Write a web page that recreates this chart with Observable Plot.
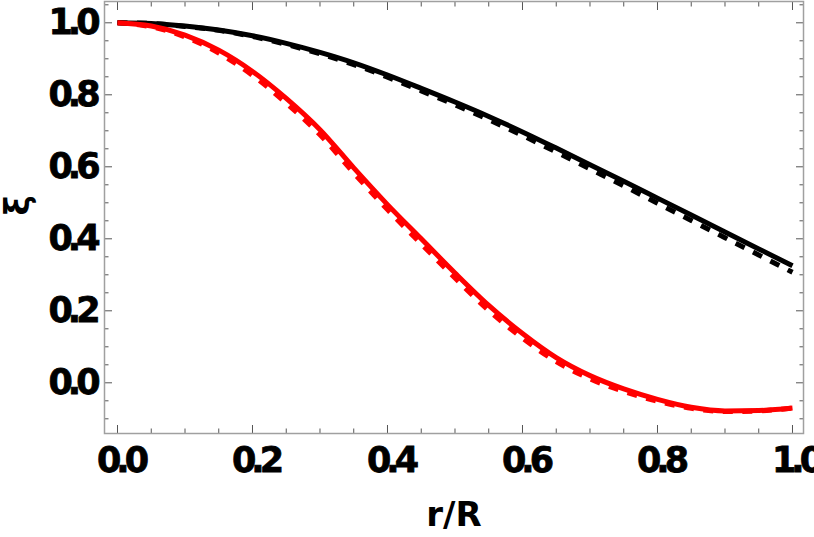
<!DOCTYPE html>
<html><head><meta charset="utf-8">
<script src="https://cdn.jsdelivr.net/npm/d3@7"></script>
<script src="https://cdn.jsdelivr.net/npm/@observablehq/plot@0.6"></script>
<style>
html,body{margin:0;padding:0;background:#fff;}
</style>
</head><body>
<div id="chart"></div>
<script>
// ---- data ----
const r = [0,0.05,0.10,0.15,0.20,0.25,0.30,0.35,0.40,0.45,0.50,0.55,0.60,0.65,0.70,0.75,0.80,0.85,0.90,0.95,1.00];
const blackSolid  = [1.000,0.998,0.991,0.980,0.964,0.943,0.918,0.889,0.855,0.818,0.780,0.740,0.697,0.652,0.606,0.560,0.513,0.466,0.419,0.372,0.325];
const blackDashed = [1.000,0.998,0.990,0.979,0.962,0.940,0.914,0.884,0.849,0.811,0.772,0.731,0.687,0.641,0.594,0.547,0.499,0.451,0.403,0.355,0.307];
const redSolid    = [1.000,0.991,0.966,0.924,0.865,0.790,0.703,0.597,0.495,0.400,0.305,0.215,0.137,0.070,0.020,-0.017,-0.046,-0.068,-0.078,-0.077,-0.070];
const redDashed   = [1.000,0.989,0.961,0.916,0.854,0.777,0.689,0.583,0.481,0.386,0.291,0.201,0.124,0.059,0.011,-0.024,-0.051,-0.071,-0.080,-0.078,-0.070];

const xMajor = [0,0.2,0.4,0.6,0.8,1.0];
const xMinor = [0.05,0.1,0.15,0.25,0.3,0.35,0.45,0.5,0.55,0.65,0.7,0.75,0.85,0.9,0.95];
const yMajor = [0,0.2,0.4,0.6,0.8,1.0];
const yMinor = [-0.1,-0.05,0.05,0.1,0.15,0.25,0.3,0.35,0.45,0.5,0.55,0.65,0.7,0.75,0.85,0.9,0.95,1.05];
const xTitle = "r/R";
const yTitle = "ξ";

const series = (ys) => r.map((x, i) => ({r: x, v: ys[i]}));

const tickColor = "#555";
const fmt = d3.format(".1f");
const labelFont = {fontSize: 35, fontWeight: "bold"};

const plot = Plot.plot({
  width: 814,
  height: 537,
  marginLeft: 104,
  marginRight: 11,
  marginTop: 1,
  marginBottom: 104,
  style: {fontFamily: "DejaVu Sans", background: "#fff", color: "#000"},
  x: {domain: [-0.01926, 1.0163], label: null},
  y: {domain: [-0.1408, 1.0592], label: null},
  marks: [
    // ticks (inward, all four sides)
    Plot.axisX(xMajor, {anchor: "bottom", tickSize: 8, dy: -8, tickFormat: () => "", stroke: tickColor, label: null}),
    Plot.axisX(xMinor, {anchor: "bottom", tickSize: 4.5, dy: -4.5, tickFormat: () => "", stroke: tickColor, label: null}),
    Plot.axisX(xMajor, {anchor: "top", tickSize: 8, dy: 8, tickFormat: () => "", stroke: tickColor, label: null}),
    Plot.axisX(xMinor, {anchor: "top", tickSize: 4.5, dy: 4.5, tickFormat: () => "", stroke: tickColor, label: null}),
    Plot.axisY(yMajor, {anchor: "left", tickSize: 8, dx: 8, tickFormat: () => "", stroke: tickColor, label: null}),
    Plot.axisY(yMinor, {anchor: "left", tickSize: 4.5, dx: 4.5, tickFormat: () => "", stroke: tickColor, label: null}),
    Plot.axisY(yMajor, {anchor: "right", tickSize: 8, dx: -8, tickFormat: () => "", stroke: tickColor, label: null}),
    Plot.axisY(yMinor, {anchor: "right", tickSize: 4.5, dx: -4.5, tickFormat: () => "", stroke: tickColor, label: null}),
    // tick labels
    Plot.axisX(xMajor, {anchor: "bottom", tickSize: 0, tickPadding: 14, dx: 3, tickFormat: fmt, label: null, ...labelFont}),
    Plot.axisY(yMajor, {anchor: "left", tickSize: 0, tickPadding: 9, tickFormat: fmt, label: null, ...labelFont}),
    // curves
    Plot.line(series(blackDashed), {x: "r", y: "v", stroke: "#000", strokeWidth: 5, strokeDasharray: "10,9.5", strokeLinecap: "butt", curve: "monotone-x"}),
    Plot.line(series(redDashed), {x: "r", y: "v", stroke: "#ff0000", strokeWidth: 5, strokeDasharray: "10,9.5", strokeLinecap: "butt", curve: "monotone-x"}),
    Plot.line(series(blackSolid), {x: "r", y: "v", stroke: "#000", strokeWidth: 5, strokeLinecap: "butt", curve: "monotone-x"}),
    Plot.line(series(redSolid), {x: "r", y: "v", stroke: "#ff0000", strokeWidth: 5, strokeLinecap: "butt", curve: "monotone-x"}),
    // frame
    Plot.frame({stroke: "#a0a0a0", strokeWidth: 1.5}),
    // axis titles
    Plot.text([xTitle], {frameAnchor: "bottom", dy: 92, text: d => d, fontSize: 34, fontWeight: "bold"}),
    Plot.text([yTitle], {frameAnchor: "left", dx: -86, dy: -2, rotate: -90, text: d => d, fontSize: 34, fontWeight: "bold"})
  ]
});

d3.select(plot).selectAll("text")
  .filter(function () { return /^-?\d\.\d$/.test(this.textContent); })
  .style("letter-spacing", "-5px")
  .attr("stroke", "#000")
  .attr("stroke-width", 0.8);

document.getElementById("chart").appendChild(plot);
</script>
</body></html>
